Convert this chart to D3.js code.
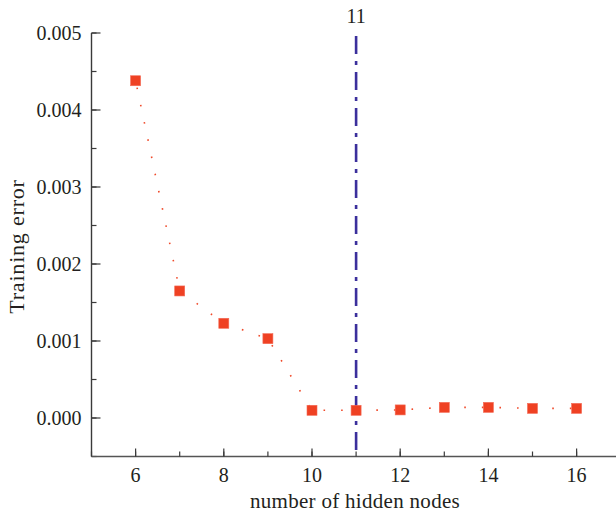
<!DOCTYPE html>
<html>
<head>
<meta charset="utf-8">
<script src="https://cdn.jsdelivr.net/npm/d3@7"></script>
<style>
  html, body { margin: 0; padding: 0; background: #fff; }
  svg { display: block; }
  text { font-family: "Liberation Serif", "DejaVu Serif", serif; fill: #231f20; }
</style>
</head>
<body>
<svg id="chart" width="616" height="517"></svg>
<script>
// Training error for each hidden-layer size
const hiddenNodes = [6, 7, 8, 9, 10, 11, 12, 13, 14, 15, 16];
const trainingError = [0.00438, 0.00165, 0.00123, 0.00103, 0.00010, 0.00010, 0.000105, 0.000138, 0.000138, 0.000125, 0.000125];
const xTicks = [6, 8, 10, 12, 14, 16];
const yTicks = [0.000, 0.001, 0.002, 0.003, 0.004, 0.005];
const bestNodes = 11;

const svg = d3.select("#chart");
const plotLeft = 91.5, plotTop = 33, plotBottom = 456.5;

const x = d3.scaleLinear().domain([5, 17]).range([plotLeft, plotLeft + 12 * 44.1]);
const y = d3.scaleLinear().domain([-0.0005, 0.005]).range([plotBottom, plotTop]);

const axisColor = "#3a3a3a";

// Y axis with inward ticks
const yAxis = svg.append("g").attr("transform", `translate(${plotLeft},0)`);
yAxis.append("line").attr("x1", 0).attr("x2", 0).attr("y1", plotTop).attr("y2", plotBottom)
  .attr("stroke", axisColor).attr("stroke-width", 1.4);
const yMinor = d3.range(-0.0005, 0.00501, 0.0005);
yAxis.selectAll("line.minor").data(yMinor).join("line").attr("class", "minor")
  .attr("x1", 0).attr("x2", 5).attr("y1", d => y(d)).attr("y2", d => y(d))
  .attr("stroke", axisColor).attr("stroke-width", 1.2);
yAxis.selectAll("line.major").data(yTicks).join("line").attr("class", "major")
  .attr("x1", 0).attr("x2", 9).attr("y1", d => y(d)).attr("y2", d => y(d))
  .attr("stroke", axisColor).attr("stroke-width", 1.2);
yAxis.selectAll("text").data(yTicks).join("text")
  .attr("x", -10).attr("y", d => y(d)).attr("dy", "0.35em")
  .attr("text-anchor", "end").attr("font-size", 20)
  .text(d3.format(".3f"));

// X axis with inward ticks
const xAxis = svg.append("g").attr("transform", `translate(0,${plotBottom})`);
xAxis.append("line").attr("x1", plotLeft).attr("x2", 616).attr("y1", 0).attr("y2", 0)
  .attr("stroke", "#555").attr("stroke-width", 1.4);
const xMinor = d3.range(5, 17, 1);
xAxis.selectAll("line.minor").data(xMinor).join("line").attr("class", "minor")
  .attr("x1", d => x(d)).attr("x2", d => x(d)).attr("y1", 0).attr("y2", -5)
  .attr("stroke", axisColor).attr("stroke-width", 1.2);
xAxis.selectAll("line.major").data(xTicks).join("line").attr("class", "major")
  .attr("x1", d => x(d)).attr("x2", d => x(d)).attr("y1", 0).attr("y2", -8)
  .attr("stroke", axisColor).attr("stroke-width", 1.2);
xAxis.selectAll("text").data(xTicks).join("text")
  .attr("x", d => x(d)).attr("y", 25)
  .attr("text-anchor", "middle").attr("font-size", 20)
  .text(d => d);

// Axis titles
svg.append("text").attr("x", 355).attr("y", 508)
  .attr("text-anchor", "middle").attr("font-size", 21)
  .attr("letter-spacing", 0.3)
  .text("number of hidden nodes");
svg.append("text")
  .attr("transform", `translate(24,246.5) rotate(-90)`)
  .attr("text-anchor", "middle").attr("font-size", 22)
  .attr("letter-spacing", 0.8)
  .text("Training error");

// Reference line at the chosen hidden-node count
svg.append("line")
  .attr("x1", x(bestNodes)).attr("x2", x(bestNodes))
  .attr("y1", 36).attr("y2", plotBottom)
  .attr("stroke", "#3b2f9c").attr("stroke-width", 2.6)
  .attr("stroke-dasharray", "18 7 4 7");
svg.append("text").attr("x", x(bestNodes)).attr("y", 23)
  .attr("text-anchor", "middle").attr("font-size", 20)
  .text(bestNodes);

// Dotted connecting line
const pts = hiddenNodes.map((d, i) => [x(d), y(trainingError[i])]);
svg.append("path")
  .attr("d", d3.line()(pts))
  .attr("fill", "none").attr("stroke", "#f04a2a").attr("stroke-width", 1.6)
  .attr("stroke-dasharray", "1.6 16").attr("stroke-dashoffset", -7);

// Square markers
svg.selectAll("rect.pt").data(hiddenNodes).join("rect").attr("class", "pt")
  .attr("x", (d) => x(d) - 5)
  .attr("y", (d, i) => y(trainingError[i]) - 5)
  .attr("width", 10).attr("height", 10)
  .attr("fill", "#ef4123").attr("stroke", "#f46a55").attr("stroke-width", 0.6);
</script>
</body>
</html>
